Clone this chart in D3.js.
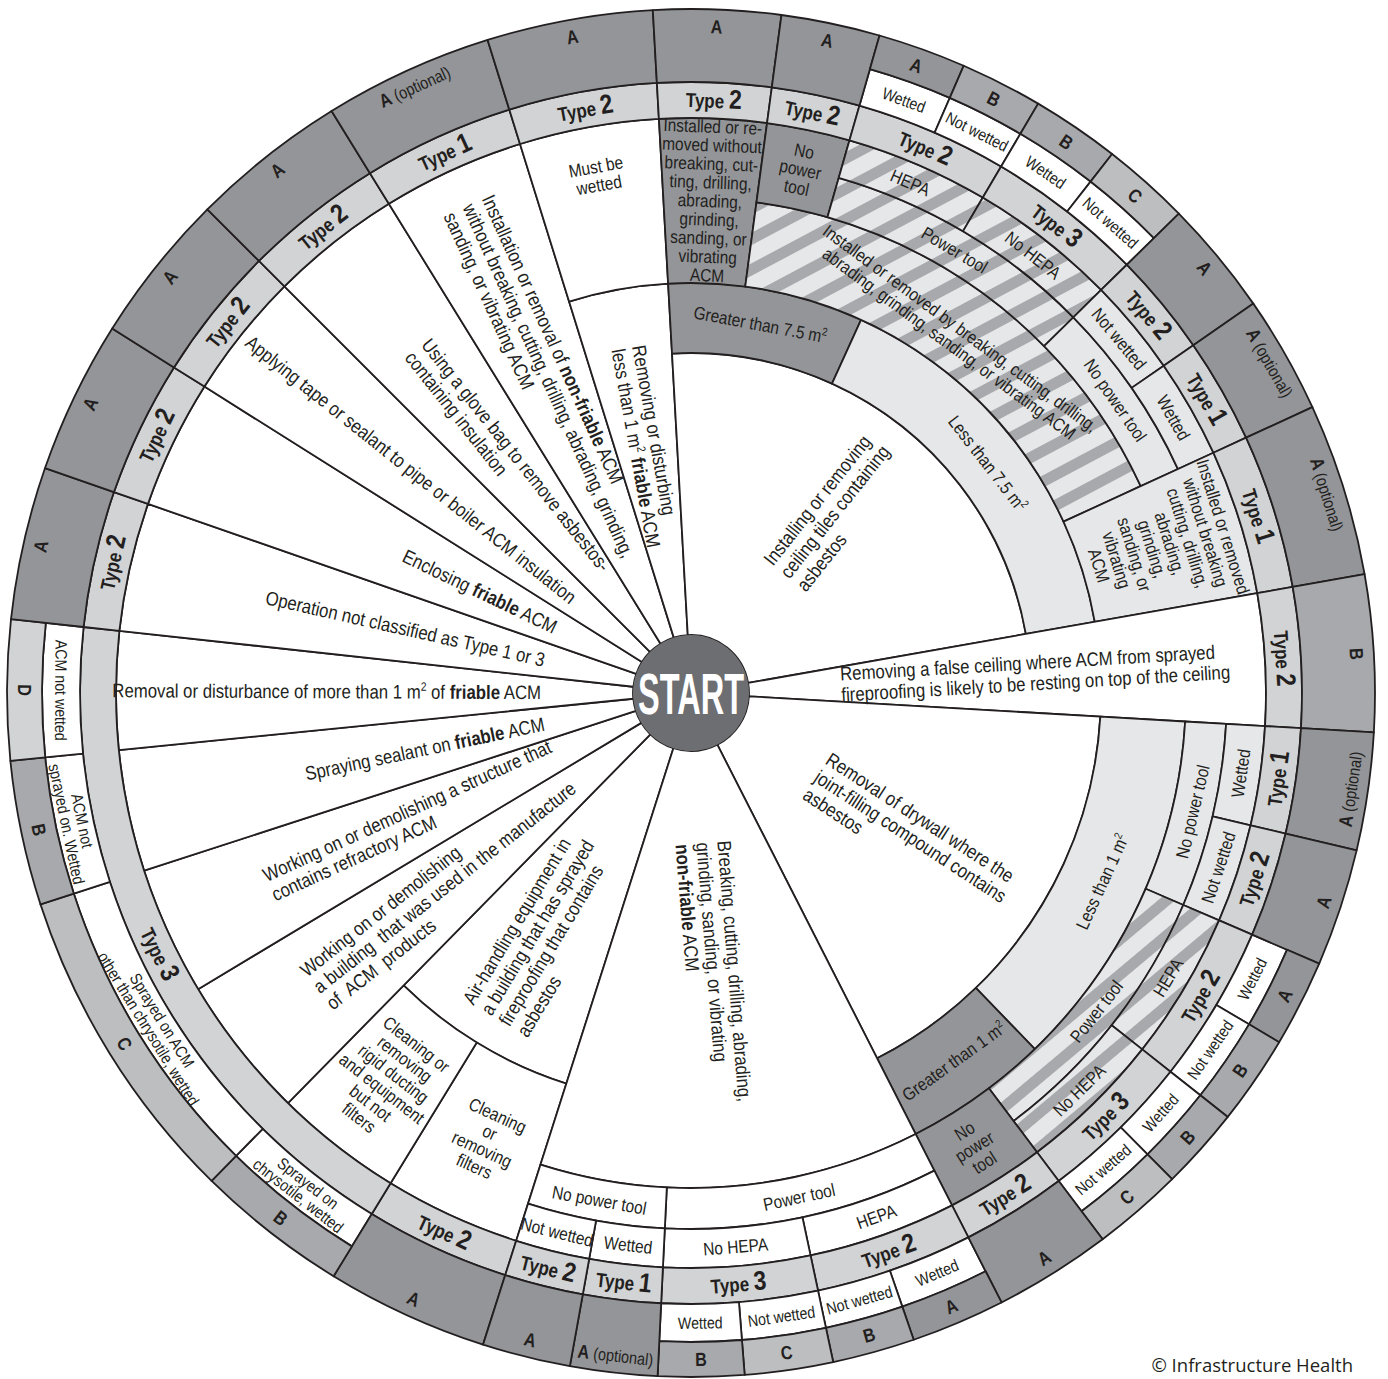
<!DOCTYPE html>
<html>
<head>
<meta charset="utf-8">
<script src="https://cdn.jsdelivr.net/npm/d3@7"></script>
<style>
  body { margin: 0; background: #fff; }
  text { font-family: "Liberation Sans", Arial, sans-serif; fill: #231f20; white-space: pre; }
</style>
</head>
<body>
<script>
// angles in degrees, clockwise from 12 o'clock; ring levels 0 (START) .. 8 (outer edge)

// outer ring: [from, to, letter, optional]
const outerCells = [
  [-162.3, -148.5, "A", 0], [-148.5, -135.5, "B", 0], [-135.5, -108.0, "C", 0],
  [-108.0, -95.7, "B", 0], [-95.7, -83.8, "D", 0], [-83.8, -70.8, "A", 0],
  [-70.8, -57.8, "A", 0], [-57.8, -45.0, "A", 0], [-45.0, -31.7, "A", 0],
  [-31.7, -17.3, "A", 1], [-17.3, -3.2, "A", 0], [-3.2, 7.6, "A", 0],
  [7.6, 16.0, "A", 0], [16.0, 23.5, "A", 0], [23.5, 30.5, "B", 0],
  [30.5, 38.0, "B", 0], [38.0, 45.5, "C", 0], [45.5, 55.3, "A", 0],
  [55.3, 65.3, "A", 1], [65.3, 80.0, "A", 1], [80.0, 93.3, "B", 0],
  [93.3, 103.3, "A", 1], [103.3, 113.3, "A", 0], [113.3, 120.7, "A", 0],
  [120.7, 128.3, "B", 0], [128.3, 135.3, "B", 0], [135.3, 143.0, "C", 0],
  [143.0, 153.0, "A", 0], [153.0, 161.0, "A", 0], [161.0, 168.0, "B", 0],
  [168.0, 175.5, "C", 0], [175.5, 182.8, "B", 0], [182.8, 190.2, "A", 1],
  [190.2, 197.7, "A", 0]
];

// white band cut out of the outer ring: [from, to, text]
const splitCells = [
  [-148.5, -135.5, "Sprayed on|chrysotile, wetted"],
  [-135.5, -108.0, "Sprayed on ACM|other than chrysotile, wetted"],
  [-108.0, -95.7, "ACM not|sprayed on. Wetted"],
  [-95.7, -83.8, "ACM not wetted"],
  [16.0, 23.5, "Wetted"], [23.5, 30.5, "Not wetted"], [30.5, 38.0, "Wetted"], [38.0, 45.5, "Not wetted"],
  [113.3, 120.7, "Wetted"], [120.7, 128.3, "Not wetted"], [128.3, 135.3, "Wetted"], [135.3, 143.0, "Not wetted"],
  [153.0, 161.0, "Wetted"], [161.0, 168.0, "Not wetted"], [168.0, 175.5, "Not wetted"], [175.5, 182.8, "Wetted"]
];

// type ring: [from, to, type]
const typeCells = [
  [-162.3, -148.5, 2], [-148.5, -83.8, 3], [-83.8, -70.8, 2], [-70.8, -57.8, 2],
  [-57.8, -45.0, 2], [-45.0, -31.7, 2], [-31.7, -17.3, 1], [-17.3, -3.2, 2],
  [-3.2, 7.6, 2], [7.6, 16.0, 2], [16.0, 30.5, 2], [30.5, 45.5, 3],
  [45.5, 55.3, 2], [55.3, 65.3, 1], [65.3, 80.0, 1], [80.0, 93.3, 2],
  [93.3, 103.3, 1], [103.3, 113.3, 2], [113.3, 128.3, 2], [128.3, 143.0, 3],
  [143.0, 153.0, 2], [153.0, 168.0, 2], [168.0, 182.8, 3], [182.8, 190.2, 1],
  [190.2, 197.7, 2]
];

// inner cells: [from, to, inner level, outer level, shade, text, reading]
const innerCells = [
  [-162.3, -135.5, 0, 2, "white", "Air-handling equipment in|a building that has sprayed|fireproofing that contains|asbestos", "in"],
  [-162.3, -148.5, 2, 5, "white", "Cleaning|or|removing|filters", "tan"],
  [-148.5, -135.5, 2, 5, "white", "Cleaning or|removing|rigid ducting|and equipment|but not|filters", "tan"],
  [-135.5, -121.0, 0, 5, "white", "Working on or demolishing|a building  that was used in the manufacture|of  ACM  products", "in"],
  [-121.0, -108.0, 0, 5, "white", "Working on or demolishing a structure that|contains refractory ACM", "in"],
  [-108.0, -95.7, 0, 5, "white", "Spraying sealant on **friable** ACM", "in"],
  [-95.7, -83.8, 0, 5, "white", "Removal or disturbance of more than 1 m^2 of **friable** ACM", "in"],
  [-83.8, -70.8, 0, 5, "white", "Operation not classified as Type 1 or 3", "in"],
  [-70.8, -57.8, 0, 5, "white", "Enclosing **friable** ACM", "in"],
  [-57.8, -45.0, 0, 5, "white", "Applying tape or sealant to pipe or boiler ACM insulation", "in"],
  [-45.0, -31.7, 0, 5, "white", "Using a glove bag to remove asbestos-|containing insulation", "in"],
  [-31.7, -17.3, 0, 5, "white", "Installation or removal of **non-friable** ACM|without breaking, cutting, drilling, abrading, grinding,|sanding, or vibrating ACM", "in"],
  [-17.3, -3.2, 0, 2, "white", "Removing or disturbing|less than 1 m^2 **friable** ACM", "in"],
  [-17.3, -3.2, 2, 5, "white", "Must be|wetted", "tan"],
  [-3.2, 80.0, 0, 1, "white", "Installing or removing|ceiling tiles containing|asbestos", "out"],
  [-3.2, 24.5, 1, 2, "dark", "Greater than 7.5 m^2", "tan"],
  [24.5, 80.0, 1, 2, "light", "Less than 7.5 m^2", "tan"],
  [-3.2, 7.6, 2, 5, "dark", "Installed or re-|moved without|breaking, cut-|ting, drilling,|abrading,|grinding,|sanding, or|vibrating|ACM", "tan"],
  [7.6, 65.3, 2, 3, "hatchTop", "Installed or removed by breaking, cutting, drilling,|abrading, grinding, sanding, or vibrating ACM", "tan"],
  [7.6, 16.0, 3, 5, "dark", "No|power|tool", "tan"],
  [16.0, 45.5, 3, 4, "hatchTop", "Power tool", "tan"],
  [16.0, 30.5, 4, 5, "hatchTop", "HEPA", "tan"],
  [30.5, 45.5, 4, 5, "hatchTop", "No HEPA", "tan"],
  [45.5, 65.3, 3, 4, "light", "No power tool", "tan"],
  [45.5, 55.3, 4, 5, "light", "Not wetted", "tan"],
  [55.3, 65.3, 4, 5, "light", "Wetted", "tan"],
  [65.3, 80.0, 2, 5, "light", "Installed or removed|without breaking|cutting, drilling,|abrading,|grinding,|sanding, or|vibrating|ACM", "tan"],
  [80.0, 93.3, 0, 5, "white", "Removing a false ceiling where ACM from sprayed|fireproofing is likely to be resting on top of the ceiling", "out"],
  [93.3, 153.0, 0, 2, "white", "Removal of drywall where the|joint-filling compound contains|asbestos", "out"],
  [93.3, 136.0, 2, 3, "light", "Less than 1 m^2", "tan"],
  [136.0, 153.0, 2, 3, "dark", "Greater than 1 m^2", "tan"],
  [93.3, 113.3, 3, 4, "light", "No power tool", "tan"],
  [93.3, 103.3, 4, 5, "light", "Wetted", "tan"],
  [103.3, 113.3, 4, 5, "light", "Not wetted", "tan"],
  [113.3, 143.0, 3, 4, "hatchLow", "Power tool", "tan"],
  [113.3, 128.3, 4, 5, "hatchLow", "HEPA", "tan"],
  [128.3, 143.0, 4, 5, "hatchLow", "No HEPA", "tan"],
  [143.0, 153.0, 3, 5, "dark", "No|power|tool", "tan"],
  [153.0, 197.7, 0, 3, "white", "Breaking, cutting, drilling, abrading,|grinding, sanding, or vibrating|**non-friable** ACM", "out"],
  [153.0, 182.8, 3, 4, "white", "Power tool", "tan"],
  [182.8, 197.7, 3, 4, "white", "No power tool", "tan"],
  [153.0, 168.0, 4, 5, "white", "HEPA", "tan"],
  [168.0, 182.8, 4, 5, "white", "No HEPA", "tan"],
  [182.8, 190.2, 4, 5, "white", "Wetted", "tan"],
  [190.2, 197.7, 4, 5, "white", "Not wetted", "tan"]
];

const width = 1388, height = 1379;
const cx = 691, cy = 693;

const angle = d3.scaleLinear().domain([0, 360]).range([0, 2 * Math.PI]);
const radius = d3.scaleLinear().domain(d3.range(9)).range([58, 340, 410, 495, 536, 575, 611, 649, 684]);

const shades = {
  white: "#ffffff", light: "#e6e7e8", dark: "#939598", type: "#d1d3d4",
  A: "#939598", B: "#a7a9ac", C: "#bcbec0", D: "#d1d3d4",
  hatchTop: "url(#hatchTop)", hatchLow: "url(#hatchLow)"
};
const ink = "#231f20";
const narrow = 0.86;      // horizontal squeeze to imitate a condensed face
// where a label sits across its cell, default middle
const labelDepth = {
  "Must be|wetted": 0.7,
  "Installed or removed by breaking, cutting, drilling,|abrading, grinding, sanding, or vibrating ACM": 0.4
};

var svg = d3.select("body").append("svg")
            .attr("width", width)
            .attr("height", height);

var defs = svg.append("defs");
[["hatchTop", -28], ["hatchLow", -40]].forEach(function(h) {
  var p = defs.append("pattern")
              .attr("id", h[0])
              .attr("patternUnits", "userSpaceOnUse")
              .attr("width", 27).attr("height", 27)
              .attr("patternTransform", "rotate(" + h[1] + ")");
  p.append("rect").attr("width", 27).attr("height", 27).attr("fill", "#e6e7e8");
  p.append("rect").attr("width", 27).attr("height", 11).attr("fill", "#a7a9ac");
});

var wheel = svg.append("g").attr("transform", "translate(" + cx + "," + cy + ")");

// build cells from the tables
var splitSet = new Set(splitCells.map(function(d) { return d[0] + ":" + d[1]; }));

var cells = [];
innerCells.forEach(function(d) {
  cells.push({ a0: d[0], a1: d[1], r0: d[2], r1: d[3], fill: d[4], text: d[5], mode: d[6], kind: "body" });
});
typeCells.forEach(function(d) {
  cells.push({ a0: d[0], a1: d[1], r0: 5, r1: 6, fill: "type", type: d[2], kind: "type" });
});
splitCells.forEach(function(d) {
  cells.push({ a0: d[0], a1: d[1], r0: 6, r1: 7, fill: "white", text: d[2], mode: "tan", kind: "small" });
});
outerCells.forEach(function(d) {
  var split = splitSet.has(d[0] + ":" + d[1]);
  cells.push({ a0: d[0], a1: d[1], r0: split ? 7 : 6, r1: 8, fill: d[2], letter: d[2], opt: d[3], kind: "letter" });
});

var arc = d3.arc()
            .startAngle(function(d) { return angle(d.a0); })
            .endAngle(function(d) { return angle(d.a1); })
            .innerRadius(function(d) { return radius(d.r0); })
            .outerRadius(function(d) { return radius(d.r1); });

wheel.selectAll("path.cell")
     .data(cells)
     .join("path")
     .attr("class", "cell")
     .attr("d", arc)
     .attr("fill", function(d) { return shades[d.fill]; })
     .attr("stroke", ink)
     .attr("stroke-width", 1.8)
     .attr("stroke-linejoin", "round");

function point(deg, r) {
  return [r * Math.sin(angle(deg)), -r * Math.cos(angle(deg))];
}

function tangentRotation(deg) {
  return Math.cos(angle(deg)) > 0.01 ? deg : deg + 180;
}

// text with **bold** and ^2 superscripts
function rich(t, str, size) {
  var parts = str.split(/(\*\*.+?\*\*|\^2)/).filter(function(s) { return s.length; });
  var lift = 0;
  parts.forEach(function(p) {
    var ts = t.append("tspan");
    if (lift) { ts.attr("dy", lift); lift = 0; }
    if (p === "^2") {
      ts.attr("font-size", size * 0.62).attr("dy", -size * 0.4).text("2");
      lift = size * 0.4;
    } else if (p.indexOf("**") === 0) {
      ts.attr("font-weight", "bold").text(p.slice(2, -2));
    } else {
      ts.text(p);
    }
  });
}

var sizes = { body: 18, wedge: 19.5, small: 16.5 };
var leading = { body: 18.6, wedge: 21, small: 16 };
var radialEnd = 150;
var radialEndWide = 180;

cells.filter(function(d) { return d.text; }).forEach(function(d) {
  var mid = (d.a0 + d.a1) / 2;
  var lines = d.text.split("|");
  var cat = d.mode === "tan" ? (d.kind === "small" ? "small" : "body") : "wedge";
  var fs = sizes[cat], lh = leading[cat];
  var outer = wheel.append("g");
  var grp = outer.append("g").attr("transform", "scale(" + narrow + ",1)");
  var texts = lines.map(function(line, i) {
    var t = grp.append("text")
               .attr("font-size", fs)
               .attr("text-anchor", d.mode === "tan" ? "middle" : "start")
               .attr("y", (i - (lines.length - 1) / 2) * lh + fs * 0.35);
    rich(t, line, fs);
    return t;
  });
  var r, rot;
  if (d.mode === "tan") {
    var k = labelDepth[d.text] !== undefined ? labelDepth[d.text] : 0.5;
    r = radius(d.r0) + k * (radius(d.r1) - radius(d.r0));
    rot = tangentRotation(mid);
  } else if (d.mode === "out") {
    r = radialEnd;
    rot = mid - 90;
  } else {
    var maxW = d3.max(texts, function(t) { return t.node().getComputedTextLength(); }) * narrow;
    r = (d.text.indexOf("Air-handling") === 0 ? radialEndWide : radialEnd) + maxW;
    rot = mid + 90;
  }
  var p = point(mid, r);
  outer.attr("transform", "translate(" + p[0] + "," + p[1] + ") rotate(" + rot + ")");
});

// Type labels
cells.filter(function(d) { return d.kind === "type"; }).forEach(function(d) {
  var mid = (d.a0 + d.a1) / 2;
  var p = point(mid, (radius(5) + radius(6)) / 2);
  var t = wheel.append("g")
               .attr("transform", "translate(" + p[0] + "," + p[1] + ") rotate(" + tangentRotation(mid) + ") scale(0.85,1)")
               .append("text")
               .attr("text-anchor", "middle")
               .attr("y", 7.5);
  t.append("tspan").attr("font-weight", "bold").attr("font-size", 20).text("Type ");
  t.append("tspan").attr("font-weight", "bold").attr("font-size", 27).text(d.type);
});

// letter labels
cells.filter(function(d) { return d.kind === "letter"; }).forEach(function(d) {
  var mid = (d.a0 + d.a1) / 2;
  var p = point(mid, (radius(7) + radius(8)) / 2);
  var t = wheel.append("g")
               .attr("transform", "translate(" + p[0] + "," + p[1] + ") rotate(" + tangentRotation(mid) + ") scale(0.85,1)")
               .append("text")
               .attr("text-anchor", "middle")
               .attr("y", 6.5);
  t.append("tspan").attr("font-weight", "bold").attr("font-size", 19).text(d.letter);
  if (d.opt) t.append("tspan").attr("font-size", 17).text(" (optional)");
});

// START
wheel.append("circle")
     .attr("r", radius(0))
     .attr("fill", "#6d6e71");

wheel.append("text")
     .attr("text-anchor", "middle")
     .attr("y", 21)
     .attr("font-size", 58)
     .attr("font-weight", "bold")
     .attr("textLength", 106)
     .attr("lengthAdjust", "spacingAndGlyphs")
     .style("fill", "#ffffff")
     .text("START");

svg.append("text")
   .attr("x", 1353)
   .attr("y", 1372)
   .attr("text-anchor", "end")
   .attr("font-size", 18.5)
   .style("font-family", "'Open Sans', 'Noto Sans', sans-serif")
   .text("© Infrastructure Health");
</script>
</body>
</html>
